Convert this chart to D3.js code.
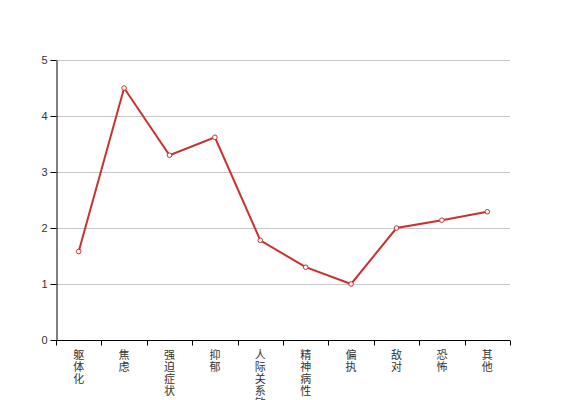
<!DOCTYPE html>
<html><head><meta charset="utf-8">
<script src="https://cdn.jsdelivr.net/npm/d3@7/dist/d3.min.js"></script>
<style>body{margin:0;background:#fff}text{font-family:"Liberation Sans","Noto Sans CJK SC",sans-serif}</style>
</head><body><svg id="c" width="567" height="400"></svg>
<script>
const categories = ["躯体化","焦虑","强迫症状","抑郁","人际关系敏感","精神病性","偏执","敌对","恐怖","其他"];
const values = [1.58, 4.5, 3.3, 3.62, 1.78, 1.3, 1.0, 2.0, 2.14, 2.29];
const yTicks = [0,1,2,3,4,5];

const svg = d3.select("#c");
const m = {left:56, right:57, top:60, bottom:60};
const W = 567, H = 400;
const x = d3.scaleBand().domain(categories).range([m.left, W - m.right]);
const y = d3.scaleLinear().domain([0,5]).range([H - m.bottom, m.top]);

// grid
svg.append("g").selectAll("line").data(yTicks.filter(d=>d>0)).join("line")
  .attr("x1", m.left).attr("x2", W - m.right)
  .attr("y1", d=>y(d)+0.5).attr("y2", d=>y(d)+0.5)
  .attr("stroke", "#c8c8c8").attr("stroke-width", 1);

// y axis
const ya = svg.append("g").attr("transform", `translate(${m.left+0.5},0)`)
  .call(d3.axisLeft(y).tickValues(yTicks).tickFormat(d3.format("d")).tickSizeOuter(0));
ya.selectAll("text").attr("font-size", 11).attr("fill", "#333");
ya.selectAll("line,path").attr("stroke", "#000");

// x axis
const xg = svg.append("g").attr("transform", `translate(0,${y(0)+0.5})`);
xg.append("line").attr("x1", m.left).attr("x2", W - m.right).attr("stroke", "#000");
const bounds = categories.map(c => x(c)).concat([x(categories[categories.length-1]) + x.bandwidth()]);
xg.selectAll("line.tk").data(bounds).join("line").attr("class","tk")
  .attr("x1", d=>Math.round(d)+0.5).attr("x2", d=>Math.round(d)+0.5)
  .attr("y1", 0).attr("y2", 5).attr("stroke", "#000");
const lbl = xg.selectAll("text").data(categories).join("text")
  .attr("font-size", 11).attr("fill", "#333").attr("text-anchor", "middle");
lbl.each(function(c){
  const t = d3.select(this);
  Array.from(c).forEach((ch, i) => {
    t.append("tspan").attr("x", x(c) + x.bandwidth()/2).attr("y", 18 + i*12).text(ch);
  });
});

// line
const line = d3.line().x((d,i)=>x(categories[i]) + x.bandwidth()/2).y(d=>y(d));
svg.append("path").datum(values).attr("d", line)
  .attr("fill", "none").attr("stroke", "#c8312f").attr("stroke-width", 2);
svg.append("g").selectAll("circle").data(values).join("circle")
  .attr("cx", (d,i)=>x(categories[i]) + x.bandwidth()/2).attr("cy", d=>y(d))
  .attr("r", 2.3).attr("fill", "#fff").attr("stroke", "#c8312f").attr("stroke-width", 1);
</script></body></html>
